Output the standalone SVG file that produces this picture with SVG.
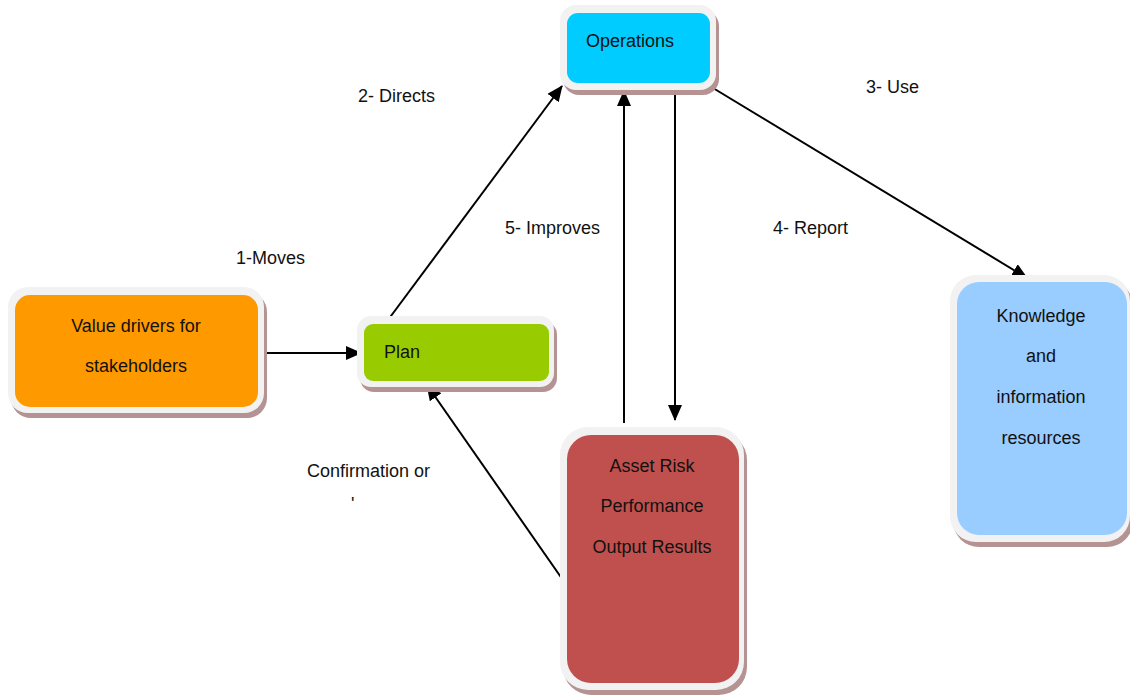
<svg xmlns="http://www.w3.org/2000/svg" width="1130" height="698" viewBox="0 0 1130 698">
<style>
.shadow{fill:#b59393}
.frame{fill:#f2f2f2}
.t{font-family:"Liberation Sans",Arial,sans-serif;font-size:18px;fill:#111}
.c{text-anchor:middle}
.edge{stroke:#000;stroke-width:2;fill:none;marker-end:url(#arr)}
</style>
<defs>
<marker id="arr" viewBox="0 0 16 14" refX="15" refY="7" markerWidth="16" markerHeight="14" markerUnits="userSpaceOnUse" orient="auto">
<path d="M0,0 L16,7 L0,14 z" fill="#000"/>
</marker>
</defs>
<rect width="1130" height="698" fill="#fff"/>
<g id="connectors">
<line class="edge" x1="262" y1="353" x2="361" y2="353"/>
<line class="edge" x1="388" y1="320" x2="562" y2="86"/>
<line class="edge" x1="624" y1="423" x2="624" y2="91"/>
<line class="edge" x1="675" y1="93" x2="675" y2="420"/>
<line class="edge" x1="713" y1="88" x2="1027" y2="278"/>
<line class="edge" x1="565" y1="583" x2="427" y2="385"/>
</g>
<g id="value-drivers">
<rect class="shadow" x="11" y="292" width="256" height="126" rx="20"/>
<rect class="frame" x="8" y="287" width="256" height="126" rx="20"/>
<rect x="15" y="295" width="243" height="112" rx="15" fill="#ff9900"/>
<text class="t c" x="136" y="332">Value drivers for</text>
<text class="t c" x="136" y="372">stakeholders</text>
</g>
<g id="plan">
<rect class="shadow" x="360" y="321" width="197" height="71" rx="14"/>
<rect class="frame" x="357" y="316" width="197" height="71" rx="14"/>
<rect x="364" y="324" width="185" height="57" rx="9" fill="#99cc00"/>
<text class="t" x="384" y="358">Plan</text>
</g>
<g id="operations">
<rect class="shadow" x="563" y="10" width="156" height="85" rx="16"/>
<rect class="frame" x="560" y="5" width="156" height="85" rx="16"/>
<rect x="567" y="13" width="143" height="70" rx="11" fill="#00ccff"/>
<text class="t" x="586" y="47">Operations</text>
</g>
<g id="knowledge">
<rect class="shadow" x="953" y="280" width="180" height="267" rx="26"/>
<rect class="frame" x="950" y="275" width="180" height="267" rx="26"/>
<rect x="957" y="282" width="170" height="253" rx="22" fill="#99ccff"/>
<text class="t c" x="1041" y="322">Knowledge</text>
<text class="t c" x="1041" y="362">and</text>
<text class="t c" x="1041" y="403">information</text>
<text class="t c" x="1041" y="444">resources</text>
</g>
<g id="asset-risk">
<rect class="shadow" x="563" y="432" width="184" height="263" rx="28"/>
<rect class="frame" x="560" y="427" width="184" height="263" rx="28"/>
<rect x="567" y="435" width="172" height="248" rx="24" fill="#c0504d"/>
<text class="t c" x="652" y="472">Asset Risk</text>
<text class="t c" x="652" y="512">Performance</text>
<text class="t c" x="652" y="553">Output Results</text>
</g>
<g id="labels">
<text class="t" x="358" y="102">2- Directs</text>
<text class="t" x="866" y="93">3- Use</text>
<text class="t" x="505" y="234">5- Improves</text>
<text class="t" x="773" y="234">4- Report</text>
<text class="t" x="236" y="264">1-Moves</text>
<text class="t" x="307" y="477">Confirmation or</text>
<text class="t" x="351" y="510">'</text>
</g>
</svg>
